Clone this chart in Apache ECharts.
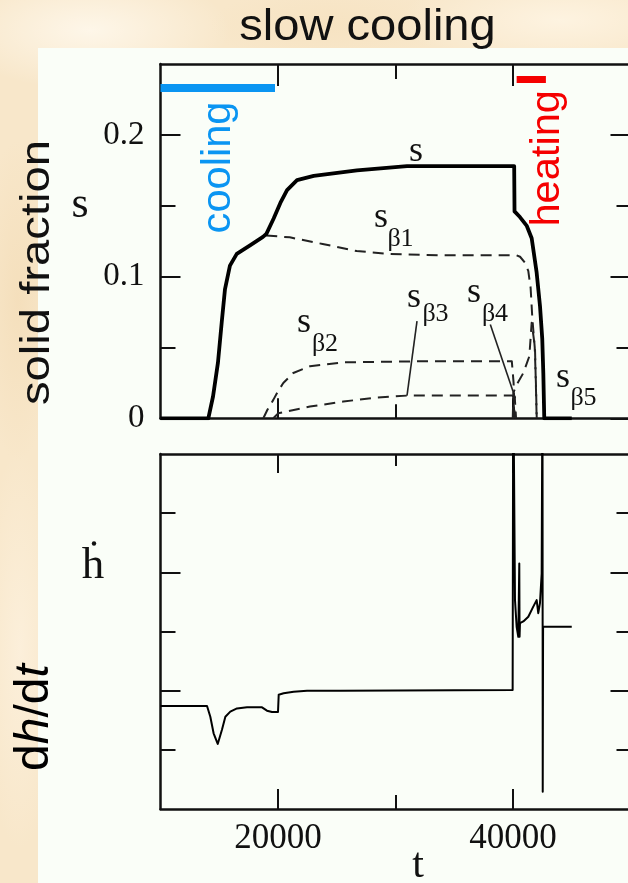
<!DOCTYPE html>
<html>
<head>
<meta charset="utf-8">
<title>slow cooling</title>
<script src="https://cdn.jsdelivr.net/npm/echarts@6.0.0/dist/echarts.min.js"></script>
<style>
  html, body {
    margin: 0;
    padding: 0;
    width: 628px;
    height: 883px;
    overflow: hidden;
  }
  body {
    position: relative;
    background-color: #f8e7ca;
    background-image:
      radial-gradient(ellipse 140px 60px at 90px 30px, rgba(255, 249, 238, 0.85), rgba(255, 249, 238, 0) 100%),
      radial-gradient(ellipse 160px 50px at 560px 20px, rgba(255, 246, 230, 0.8), rgba(255, 246, 230, 0) 100%),
      radial-gradient(ellipse 40px 160px at 18px 300px, rgba(244, 222, 186, 0.9), rgba(244, 222, 186, 0) 100%),
      radial-gradient(ellipse 40px 200px at 20px 650px, rgba(252, 240, 220, 0.9), rgba(252, 240, 220, 0) 100%),
      radial-gradient(ellipse 120px 40px at 330px 25px, rgba(246, 226, 192, 0.8), rgba(246, 226, 192, 0) 100%);
  }
  .panel {
    position: absolute;
    left: 38px;
    top: 48px;
    right: 0;
    bottom: 0;
    background: #fafef8;
  }
  #chart {
    position: absolute;
    left: 0;
    top: 0;
    width: 640px;
    height: 883px;
  }
</style>
</head>
<body>
<div class="panel"></div>
<div id="chart"></div>
<script>
// 坐标轴刻度
const tMajorTicks = [20000, 40000]
const tMinorTicks = [30000]
const sMajorTicks = [0, 0.1, 0.2]
const sMinorTicks = [0.05, 0.15]
const hMajorTicks = [2, 4]
const hMinorTicks = [1, 3, 5]
const tLabels = [20000, 40000]
const sLabels = [0, 0.1, 0.2]

// 固相分数 s（粗实线）
const sTotal = [[10000, 0], [14070, 0], [14470, 0.0154], [14890, 0.0393], [15210, 0.0677], [15490, 0.0912],
  [15910, 0.1077], [16490, 0.116], [17620, 0.122], [18720, 0.128], [19000, 0.130], [19630, 0.141],
  [20200, 0.152], [20770, 0.161], [21620, 0.168], [23040, 0.171], [26720, 0.175], [30980, 0.178],
  [40100, 0.178], [40130, 0.146], [40590, 0.142], [41160, 0.136], [41590, 0.127], [42010, 0.103],
  [42300, 0.079], [42490, 0.056], [42580, 0.032], [42660, 0], [45000, 0]]
// 各相分数（虚线）
const sBeta1 = [[19000, 0.129], [21000, 0.1277], [23800, 0.123], [26700, 0.118], [29500, 0.116],
  [33700, 0.115], [40300, 0.115], [40600, 0.114], [41000, 0.110], [41300, 0.104], [41500, 0.092],
  [41650, 0.070], [41850, 0.050], [41950, 0.025], [42020, 0]]
const sBeta2 = [[18750, 0], [19100, 0.006], [19600, 0.013], [20000, 0.019], [20450, 0.0249], [21300, 0.032],
  [22720, 0.0367], [25560, 0.0395], [32080, 0.0402], [39900, 0.0402], [40050, 0.025], [40150, 0]]
const sBeta3 = [[19600, 0], [20030, 0.0036], [22720, 0.0083], [25560, 0.0118], [28400, 0.0147],
  [30950, 0.016], [40000, 0.016], [40150, 0]]
const sBeta4 = [[40000, 0], [40150, 0.015], [40260, 0]]
const sBeta5 = [[39980, 0], [40030, 0.018], [40310, 0.0237], [40880, 0.032], [41390, 0.0438],
  [41590, 0.0675], [41870, 0.050], [42015, 0]]
// 标注引线
const leaderBeta3 = [[31830, 0.0686], [30980, 0.016]]
const leaderBeta4 = [[38070, 0.0662], [40200, 0.0142]]
// 冷却 / 加热区间
const coolingBar = [[10000, 0.233], [19745, 0.233]]
const heatingBar = [[40310, 0.239], [42800, 0.239]]

// dh/dt 曲线
const dhdt = [[10000, 1.74], [13960, 1.74], [14240, 1.56], [14520, 1.28], [14870, 1.10], [15230, 1.34],
  [15520, 1.56], [15940, 1.645], [16510, 1.70], [17360, 1.718], [18640, 1.718], [19060, 1.662],
  [19490, 1.64], [20000, 1.64], [20060, 1.93], [20480, 1.955], [21330, 1.983], [22470, 2.0],
  [25300, 2.0], [39970, 2.011], [40020, 7.5], [40170, 3.53], [40310, 3.08], [40450, 2.91],
  [40535, 4.15], [40560, 2.91], [40594, 3.14], [40878, 3.17], [41303, 3.25], [41725, 3.42],
  [42013, 3.53], [42150, 3.31], [42295, 3.48], [42440, 3.98], [42510, 7.5], [42530, 0.29],
  [42560, 3.08], [45000, 3.08]]

const phaseNames = ['β1', 'β2', 'β3', 'β4', 'β5']

const sans = 'Liberation Sans, Arial, sans-serif'
const serif = 'Liberation Serif, Times New Roman, serif'
const ink = '#111'

// 框线上的刻度轴
const edgeAxis = (grid, pos, min, max, ticks, len, withLine) => ({
  type: 'value',
  gridIndex: grid,
  position: pos,
  min: min,
  max: max,
  axisLine: {show: withLine, onZero: false, lineStyle: {color: ink, width: 2.5}},
  axisTick: {show: true, inside: true, length: len, customValues: ticks, lineStyle: {color: ink, width: 2}},
  axisLabel: {show: false},
  splitLine: {show: false}
})

const xAxes = [
  edgeAxis(0, 'bottom', 10000, 50000, tMajorTicks, 20, true),
  edgeAxis(0, 'bottom', 10000, 50000, tMinorTicks, 14, false),
  edgeAxis(0, 'top', 10000, 50000, tMajorTicks, 22, true),
  edgeAxis(0, 'top', 10000, 50000, tMinorTicks, 15, false),
  edgeAxis(1, 'bottom', 10000, 50000, tMajorTicks, 20, true),
  edgeAxis(1, 'bottom', 10000, 50000, tMinorTicks, 14, false),
  edgeAxis(1, 'top', 10000, 50000, tMajorTicks, 19, true),
  edgeAxis(1, 'top', 10000, 50000, tMinorTicks, 12, false)
]
xAxes[4].axisLabel = {
  show: true, customValues: tLabels, margin: 12, color: ink,
  fontFamily: serif, fontSize: 35, formatter: v => String(v)
}

const yAxes = [
  edgeAxis(0, 'left', 0, 0.25, sMajorTicks, 20, true),
  edgeAxis(0, 'left', 0, 0.25, sMinorTicks, 15, false),
  edgeAxis(0, 'right', 0, 0.25, sMajorTicks, 20, true),
  edgeAxis(0, 'right', 0, 0.25, sMinorTicks, 14, false),
  edgeAxis(1, 'left', 0, 6, hMajorTicks, 20, true),
  edgeAxis(1, 'left', 0, 6, hMinorTicks, 15, false),
  edgeAxis(1, 'right', 0, 6, hMajorTicks, 20, true),
  edgeAxis(1, 'right', 0, 6, hMinorTicks, 14, false)
]
yAxes[0].axisLabel = {
  show: true, customValues: sLabels, margin: 16, color: ink,
  fontFamily: serif, fontSize: 33, formatter: v => String(v)
}

const lineSeries = (data, width, dashed, color, xi, yi) => ({
  type: 'line',
  data: data,
  xAxisIndex: xi,
  yAxisIndex: yi,
  showSymbol: false,
  symbol: 'none',
  silent: true,
  lineStyle: {color: color, width: width, type: dashed ? [11, 7] : 'solid', join: 'round', cap: 'butt'}
})

// 文字
const text = (str, x, y, font, extra) => Object.assign({
  type: 'text',
  x: x,
  y: y,
  style: {
    text: str, font: font, fill: ink,
    align: 'center', verticalAlign: 'middle',
    textAlign: 'center', textVerticalAlign: 'middle'
  }
}, extra || {})

const subLabel = (name, sx, sy, bx, by) => [
  text('s', sx, sy, '36px ' + serif),
  text(name, bx, by, '26px ' + serif)
]

const cooling = text('cooling', 219.4, 167.5, '40px ' + sans, {rotation: Math.PI / 2, scaleX: 1.04})
cooling.style.fill = '#0a95f2'
const heating = text('heating', 547.7, 158.3, '40px ' + sans, {rotation: Math.PI / 2, scaleX: 1.04})
heating.style.fill = '#f50000'

const dhLabel = {
  type: 'text',
  x: 35,
  y: 717.5,
  rotation: Math.PI / 2,
  style: {
    text: '{n|d}{i|h}{n|/d}{i|t}',
    font: '48px ' + sans,
    fill: '#000',
    align: 'center', verticalAlign: 'middle',
    textAlign: 'center', textVerticalAlign: 'middle',
    rich: {
      n: {fontFamily: sans, fontSize: 48, color: '#000'},
      i: {fontFamily: sans, fontSize: 48, fontStyle: 'italic', color: '#000'}
    }
  }
}

const graphics = [
  text('slow cooling', 367.5, 28, '44px ' + sans, {scaleX: 1.07}),
  text('solid fraction', 37.7, 272.5, '40px ' + sans, {rotation: Math.PI / 2, scaleX: 1.18}),
  dhLabel,
  text('s', 80, 205, '44px ' + serif),
  text('h', 93, 566.5, '45px ' + serif),
  {type: 'circle', shape: {cx: 94, cy: 543.5, r: 2.2}, style: {fill: ink}},
  text('t', 418, 866, '42px ' + serif),
  cooling,
  heating,
  text('s', 416, 152, '36px ' + serif),
  ...subLabel(phaseNames[0], 381, 218, 400.5, 239),
  ...subLabel(phaseNames[1], 304, 323, 325, 344),
  ...subLabel(phaseNames[2], 414, 298, 435.5, 314),
  ...subLabel(phaseNames[3], 474, 293, 495, 314),
  ...subLabel(phaseNames[4], 563, 378, 583.5, 398)
]

const myChart = echarts.init(document.getElementById('chart'), null, {renderer: 'canvas'})
myChart.setOption({
  animation: false,
  backgroundColor: 'transparent',
  grid: [
    {left: 160.5, top: 64, width: 470, height: 354.3, containLabel: false, outerBoundsMode: 'none'},
    {left: 160.5, top: 454, width: 470, height: 355, containLabel: false, outerBoundsMode: 'none'}
  ],
  xAxis: xAxes,
  yAxis: yAxes,
  series: [
    lineSeries(sBeta1, 2, true, '#222', 0, 0),
    lineSeries(sBeta2, 2, true, '#222', 0, 0),
    lineSeries(sBeta3, 2, true, '#222', 0, 0),
    lineSeries(sBeta4, 2, true, '#222', 0, 0),
    lineSeries(sBeta5, 2, true, '#222', 0, 0),
    lineSeries(leaderBeta3, 1.6, false, '#222', 0, 0),
    lineSeries(leaderBeta4, 1.6, false, '#222', 0, 0),
    lineSeries(sTotal, 3.8, false, '#000', 0, 0),
    lineSeries(coolingBar, 8, false, '#0a95f2', 0, 0),
    lineSeries(heatingBar, 7, false, '#f50000', 0, 0),
    lineSeries(dhdt, 2, false, '#000', 4, 4)
  ],
  graphic: graphics
})
</script>
</body>
</html>
